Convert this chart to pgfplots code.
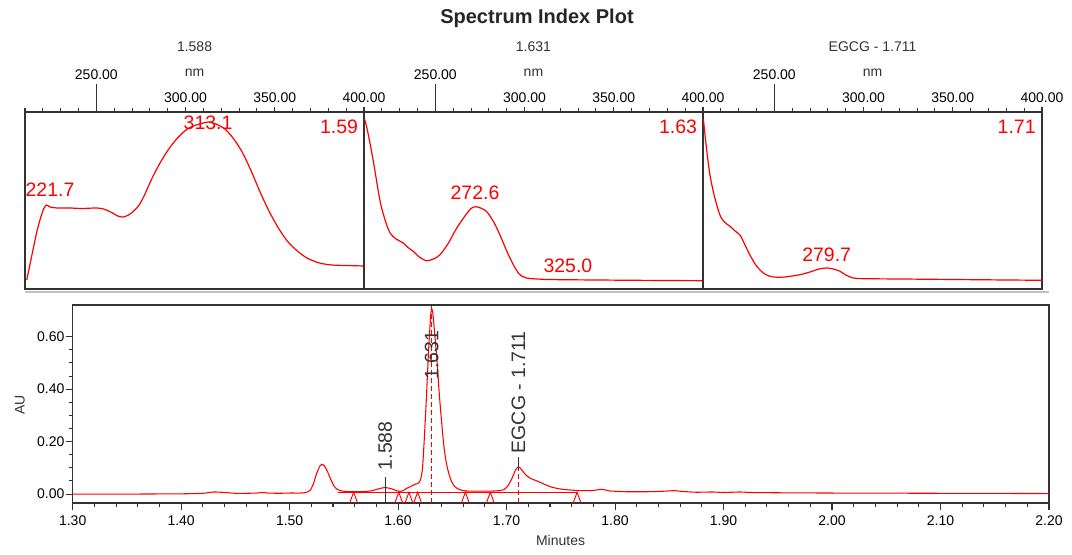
\documentclass[border=0pt]{standalone}
\usepackage{pgfplots}
\pgfplotsset{compat=1.18}
\usepackage{fontspec}
\setmainfont{Liberation Sans}
\definecolor{frame}{RGB}{50,50,50}
\definecolor{curve}{RGB}{255,0,0}
\newcommand{\tickfont}{\fontsize{10.5}{12}\selectfont}
\newcommand{\bigfont}{\fontsize{14.6}{16}\selectfont}
\tikzset{redlab/.style={text=curve, font=\bigfont, inner sep=0pt}}
\pgfplotsset{
  panel/.style={scale only axis, width=254.25pt, height=132.75pt,
    xmin=210, xmax=400, ymin=0, ymax=177, ytick=\empty,
    xtick={300,350,400}, xticklabels={300.00,350.00,400.00},
    minor xtick={210,220,...,400},
    extra x ticks={250}, extra x tick labels={250.00},
    extra x tick style={major tick length=21pt},
    xtick pos=right, xticklabel pos=right, tick align=outside,
    major tick length=3.5pt, minor tick length=3pt,
    xticklabel shift=1pt,
    axis line style={frame, line width=1.2pt},
    tick style={frame, line width=0.8pt},
    ticklabel style={font=\tickfont, inner sep=2pt},
    clip mode=individual},
  spec/.style={curve, line width=0.9pt, smooth, tension=0.5},
}
\begin{document}
\begin{tikzpicture}
\path[use as bounding box] (0,0) rectangle (804pt,416.25pt);
% Panel 1
\begin{axis}[panel, at={(18.75pt,199.5pt)}, anchor=south west]
\addplot[spec] coordinates {(211,9) (214,35) (217,60) (220,78) (222,84) (224,82) (228,81) (235,81) (242,80.5) (250,81) (254,80) (258,77) (262,73) (265,72) (268,74) (271,78) (274,84) (277,94) (281,110) (286,127) (291,141) (296,152) (301,160) (306,164) (310,166) (313,167) (317,165) (322,160) (327,150) (332,136) (337,117) (342,96) (347,77) (352,61) (357,48) (362,39) (368,31) (375,26) (382,24) (390,23.5) (400,23)};
\node[redlab] at (axis cs:224,99) {221.7};
\node[redlab] at (axis cs:312.6,166) {313.1};
\node[redlab] at (axis cs:386,162) {1.59};
\end{axis}
% Panel 2
\begin{axis}[panel, at={(273pt,199.5pt)}, anchor=south west]
\addplot[spec] coordinates {(210.3,170) (212,158) (215.2,128) (219,88) (222,68) (224.6,56) (228,50) (232,46) (235,41) (237.6,37.7) (241,32) (245,28.3) (249,30) (252.6,34.3) (257,45) (262,61) (267,74) (270,80.5) (272.6,82.3) (276,80.5) (279,77) (283,66) (286.2,54) (290,38) (293.7,24.3) (297,15) (301,11) (310,9.7) (320,9.3) (340,9) (360,8.7) (380,8.5) (400,8.3)};
\node[redlab] at (axis cs:272.2,96) {272.6};
\node[redlab] at (axis cs:324.3,23) {325.0};
\node[redlab] at (axis cs:386,162) {1.63};
\end{axis}
% Panel 3
\begin{axis}[panel, at={(527.25pt,199.5pt)}, anchor=south west]
\addplot[spec] coordinates {(210.2,170) (212,140) (213.9,114) (216.5,92) (219.5,74) (222,67) (225.1,62.7) (228,58) (230.7,54) (233,46) (236.3,34) (240,23) (243.8,16) (247,13) (251.3,11.7) (256,12) (260,13) (264.4,14.3) (270,17) (275,20) (279.3,21) (283,20) (286.8,17.7) (290,14) (294.2,11) (300,10.3) (320,10) (350,9.5) (380,9) (400,8.7)};
\node[redlab] at (axis cs:279.3,34) {279.7};
\node[redlab] at (axis cs:385.8,162) {1.71};
\end{axis}
\draw[black!25, line width=0.8pt] (18.75pt,197.25pt) -- (786.75pt,197.25pt);
% Chromatogram
\begin{axis}[scale only axis, at={(54.5pt,38.8pt)}, anchor=south west,
  width=732.25pt, height=148.7pt,
  xmin=1.3, xmax=2.2, ymin=-0.035, ymax=0.721,
  xtick={1.3,1.4,1.5,1.6,1.7,1.8,1.9,2.0,2.1,2.2},
  ytick={0,0.2,0.4,0.6}, minor x tick num=4, minor y tick num=3,
  xtick pos=left, ytick pos=left, tick align=outside,
  major tick length=5pt, minor tick length=3pt,
  xticklabel shift=3pt,
  scaled ticks=false,
  /pgf/number format/.cd, fixed, fixed zerofill, precision=2, assume math mode=true, /pgfplots/.cd,
  axis line style={frame, line width=1.2pt},
  tick style={frame, line width=0.8pt},
  ticklabel style={font=\tickfont, inner sep=1pt},
  clip mode=individual]
\addplot[curve, line width=0.8pt, smooth, tension=0.4] coordinates {
(1.300,0.000) (1.350,0.000) (1.400,0.001) (1.420,0.003) (1.430,0.008) (1.440,0.006) (1.450,0.003) (1.460,0.003) (1.470,0.004) (1.475,0.006) (1.480,0.004) (1.490,0.003) (1.500,0.004) (1.510,0.004) (1.515,0.006) (1.519,0.015) (1.522,0.040) (1.525,0.080) (1.528,0.108) (1.530,0.114) (1.532,0.108) (1.535,0.085) (1.538,0.055) (1.541,0.030) (1.544,0.018) (1.548,0.012) (1.555,0.009) (1.565,0.009) (1.575,0.012) (1.582,0.020) (1.588,0.025) (1.594,0.020) (1.600,0.011) (1.604,0.012) (1.608,0.022) (1.612,0.030) (1.616,0.038) (1.619,0.042) (1.621,0.060) (1.6225,0.100) (1.624,0.200) (1.626,0.360) (1.628,0.540) (1.630,0.680) (1.631,0.705) (1.632,0.690) (1.634,0.600) (1.636,0.500) (1.638,0.380) (1.640,0.280) (1.642,0.190) (1.644,0.130) (1.646,0.090) (1.649,0.050) (1.652,0.030) (1.656,0.018) (1.662,0.012) (1.675,0.011) (1.690,0.012) (1.697,0.016) (1.701,0.030) (1.705,0.060) (1.708,0.090) (1.711,0.104) (1.714,0.092) (1.718,0.072) (1.722,0.060) (1.728,0.050) (1.735,0.037) (1.742,0.026) (1.750,0.019) (1.760,0.015) (1.770,0.013) (1.780,0.014) (1.787,0.018) (1.790,0.017) (1.795,0.012) (1.810,0.009) (1.830,0.009) (1.845,0.011) (1.855,0.013) (1.862,0.010) (1.875,0.007) (1.890,0.008) (1.900,0.006) (1.915,0.008) (1.925,0.006) (1.950,0.005) (2.000,0.004) (2.100,0.003) (2.200,0.002)};
% integration baseline
\addplot[curve, line width=0.7pt] coordinates {(1.545,0.007) (1.765,0.007)};
% peak start/end markers
\addplot[curve, line width=0.7pt] coordinates {(1.5553,-0.035) (1.559,0.007) (1.5627,-0.035)};
\addplot[curve, line width=0.7pt] coordinates {(1.5969,-0.035) (1.6006,0.007) (1.6043,-0.035)};
\addplot[curve, line width=0.7pt] coordinates {(1.6063,-0.035) (1.610,0.007) (1.6137,-0.035)};
\addplot[curve, line width=0.7pt] coordinates {(1.6143,-0.035) (1.618,0.007) (1.6217,-0.035)};
\addplot[curve, line width=0.7pt] coordinates {(1.6583,-0.035) (1.662,0.007) (1.6657,-0.035)};
\addplot[curve, line width=0.7pt] coordinates {(1.6813,-0.035) (1.685,0.007) (1.6887,-0.035)};
\addplot[curve, line width=0.7pt] coordinates {(1.7613,-0.035) (1.765,0.007) (1.7687,-0.035)};
% retention time markers
\addplot[frame, line width=0.7pt] coordinates {(1.588,-0.035) (1.588,0.066)};
\addplot[curve, line width=0.8pt, dash pattern=on 3.75pt off 2.25pt] coordinates {(1.631,-0.035) (1.631,0.721)};
\addplot[curve, line width=0.8pt, dash pattern=on 3.75pt off 2.25pt] coordinates {(1.711,-0.035) (1.711,0.09)};
\addplot[frame, line width=0.7pt] coordinates {(1.711,0.09) (1.711,0.14)};
\node[rotate=90, anchor=west, text=frame, font=\bigfont, inner sep=1pt] at (axis cs:1.588,0.085) {1.588};
\node[rotate=90, anchor=west, text=frame, font=\bigfont, inner sep=1pt] at (axis cs:1.631,0.43) {1.631};
\node[rotate=90, anchor=west, text=frame, font=\bigfont, inner sep=1pt] at (axis cs:1.711,0.15) {EGCG - 1.711};
\end{axis}
% texts
\node[font=\fontsize{15}{17}\selectfont\bfseries, text=black!85] at (402.75pt,402.75pt) {Spectrum Index Plot};
\foreach \cx/\lab in {145.9/1.588, 400.1/1.631, 654.4/EGCG - 1.711} {
  \node[font=\tickfont, text=frame] at (\cx pt,381.4pt) {\lab};
  \node[font=\tickfont, text=frame] at (\cx pt,361.5pt) {nm};
}
\node[font=\tickfont, text=frame] at (420.4pt,10.5pt) {Minutes};
\node[font=\tickfont, text=frame, rotate=90] at (15pt,112.5pt) {AU};
\end{tikzpicture}
\end{document}
